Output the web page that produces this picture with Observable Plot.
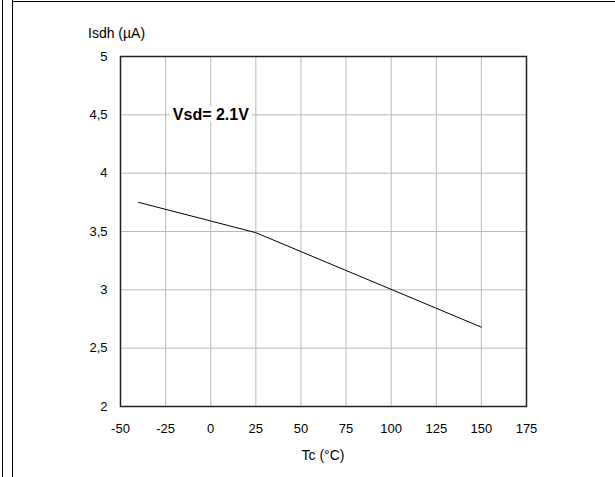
<!DOCTYPE html>
<html>
<head>
<meta charset="utf-8">
<script src="https://cdn.jsdelivr.net/npm/d3@7"></script>
<script src="https://cdn.jsdelivr.net/npm/@observablehq/plot@0.6"></script>
<style>
  html, body { margin: 0; padding: 0; background: #fff; }
  #wrap { position: relative; width: 615px; height: 477px; overflow: hidden;
          font-family: "Liberation Sans", Arial, Helvetica, sans-serif; color: #000; }
  #wrap svg { position: absolute; left: 0; top: 0; }
  .vline { position: absolute; top: 0; height: 477px; border-left: 1.5px solid #000; }
  .hline { position: absolute; left: 12px; right: 0; top: 1px; border-top: 1.5px solid #000; }
  .lbl { position: absolute; font-size: 14px; white-space: nowrap; line-height: 1; }
</style>
</head>
<body>
<div id="wrap">
  <div class="vline" style="left:2px"></div>
  <div class="vline" style="left:12px"></div>
  <div class="hline"></div>
</div>
<script>
// Data
const tc = [-40, 25, 150];          // Tc (°C)
const isdh = [3.75, 3.49, 2.68];    // Isdh (µA)
const xTicks = [-50, -25, 0, 25, 50, 75, 100, 125, 150, 175];
const yTicks = [2, 2.5, 3, 3.5, 4, 4.5, 5];
const annotationText = ["Vsd= 2.1V"];
const annotationX = [-21];
const annotationY = [4.5];
const yTitle = "Isdh (µA)";
const xTitle = "Tc (°C)";

const points = tc.map((t, i) => ({ t, v: isdh[i] }));
const notes = annotationText.map((s, i) => ({ s, x: annotationX[i], y: annotationY[i] }));

const chart = Plot.plot({
  width: 615,
  height: 477,
  marginLeft: 120,
  marginRight: 89,
  marginTop: 56,
  marginBottom: 71,
  x: { domain: [-50, 175], ticks: xTicks, label: null },
  y: { domain: [2, 5], ticks: yTicks, label: null },
  style: { fontFamily: '"Liberation Sans", Arial, Helvetica, sans-serif', fontSize: "13px", color: "#000", background: "transparent" },
  marks: [
    Plot.gridX(xTicks, { stroke: "#b8b8b8", strokeOpacity: 1, strokeWidth: 1 }),
    Plot.gridY(yTicks, { stroke: "#b8b8b8", strokeOpacity: 1, strokeWidth: 1 }),
    Plot.frame({ stroke: "#222", strokeWidth: 1.5 }),
    Plot.axisX(xTicks, { tickSize: 0, tickPadding: 17, fontSize: 13, label: null,
                         tickFormat: d => String(d) }),
    Plot.axisY(yTicks, { tickSize: 0, tickPadding: 13, fontSize: 13, label: null,
                         tickFormat: d => String(d).replace(".", ",") }),
    Plot.line(points, { x: "t", y: "v", stroke: "#000", strokeWidth: 1 }),
    Plot.text(notes, { x: "x", y: "y", text: "s", textAnchor: "start", fontWeight: "bold",
                       fontSize: 16, fill: "#000", stroke: "#fff", strokeWidth: 10 })
  ]
});
const wrap = document.getElementById("wrap");
wrap.insertBefore(chart, wrap.firstChild);

const yl = document.createElement("div");
yl.className = "lbl";
yl.textContent = yTitle;
yl.style.left = "88px";
yl.style.top = "26px";
wrap.appendChild(yl);

const xl = document.createElement("div");
xl.className = "lbl";
xl.textContent = xTitle;
xl.style.left = "323px";
xl.style.transform = "translateX(-50%)";
xl.style.top = "448px";
wrap.appendChild(xl);
</script>
</body>
</html>
